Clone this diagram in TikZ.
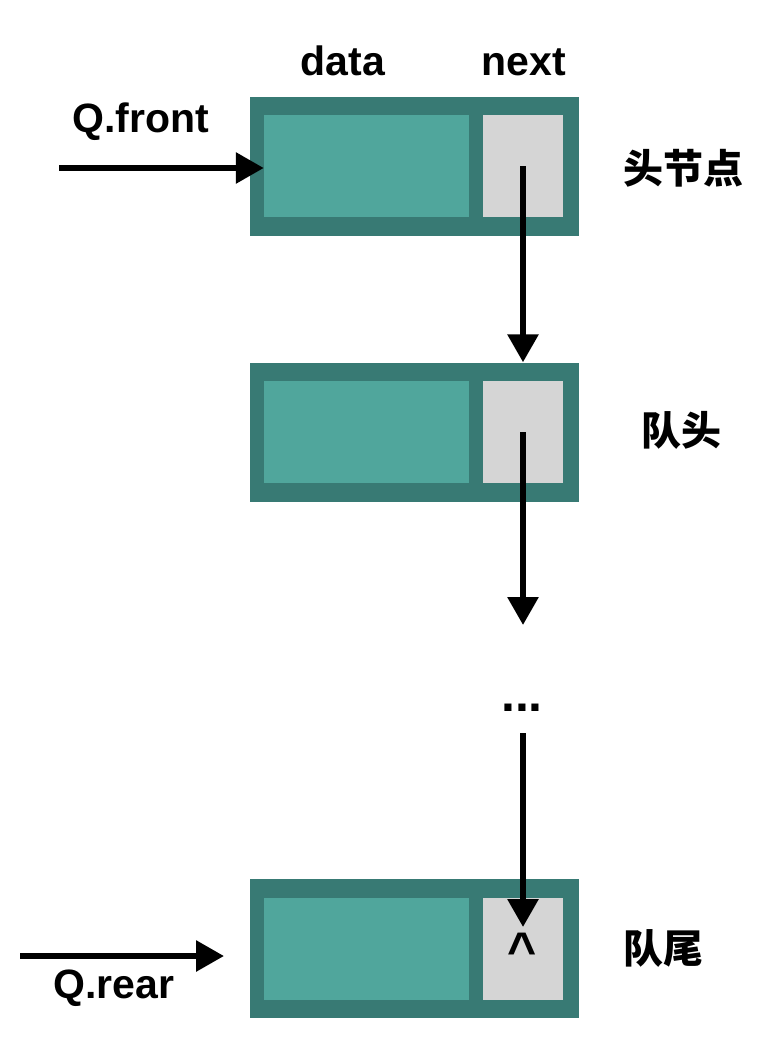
\documentclass[tikz,border=0pt]{standalone}
\usepackage{fontspec}
\setmainfont{Liberation Sans}
\newfontfamily\cjk{Noto Sans CJK SC}
\usetikzlibrary{arrows.meta}
\definecolor{boxdark}{HTML}{387A74}
\definecolor{boxlight}{HTML}{50A69C}
\definecolor{boxgray}{HTML}{D5D5D5}
\begin{document}
\begin{tikzpicture}[x=1pt,y=-1pt,
  qnode/.style={fill=boxdark,minimum width=329pt,minimum height=139pt,inner sep=0pt},
  datacell/.style={fill=boxlight,minimum width=205pt,minimum height=102pt,inner sep=0pt},
  nextcell/.style={fill=boxgray,minimum width=80pt,minimum height=102pt,inner sep=0pt},
  lbl/.style={font=\fontsize{41}{43}\selectfont\bfseries,anchor=base,inner sep=0pt},
  cjklbl/.style={font=\fontsize{40}{42}\selectfont\cjk\bfseries,inner sep=0pt},
  arr/.style={line width=6pt,-{Triangle[length=28pt,width=30pt]}}]
\useasboundingbox (0,0) rectangle (766,1060);
\node[qnode] (b1) at (414.5,166.5) {};
\node[datacell] (d1) at (366.5,166) {};
\node[nextcell] (n1) at (523,166) {};
\node[qnode] (b2) at (414.5,432) {};
\node[datacell] (d2) at (366.5,432) {};
\node[nextcell] (n2) at (523,432) {};
\node[qnode] (b3) at (414.5,948.5) {};
\node[datacell] (d3) at (366.5,948.5) {};
\node[nextcell] (n3) at (523,948.5) {};
\node[lbl] (data) at (343,75) {data};
\node[lbl] (next) at (524,75) {next};
\node[lbl] (qfront) at (141,132) {Q.front};
\node[lbl] (qrear) at (114,998) {Q.rear};
\node[cjklbl] (head) at (683,168) {头节点};
\node[cjklbl] (qhead) at (681,430) {队头};
\node[cjklbl] (qtail) at (663,948) {队尾};
\node[lbl,font=\fontsize{50}{50}\selectfont\bfseries] (dots) at (522,711) {...};
\node[font=\fontsize{50}{50}\selectfont\bfseries,inner sep=0pt] (nil) at (522,950) {\^{}};
\coordinate (f0) at (59,168);
\coordinate (r0) at (20,956);
\coordinate (a2) at (523,625);
\coordinate (a3s) at (523,733);
\coordinate (a3e) at (523,927);
\draw[arr] (f0) -- (d1.west |- f0);
\draw[arr] (r0) -- (224,956);
\draw[arr] (n1.center) -- (b2.north -| n1.center);
\draw[arr] (n2.center) -- (a2);
\draw[arr] (a3s) -- (a3e);
\end{tikzpicture}
\end{document}
